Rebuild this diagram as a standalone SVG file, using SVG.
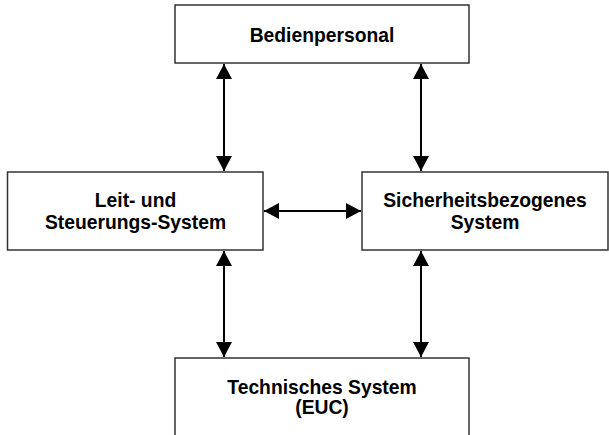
<svg xmlns="http://www.w3.org/2000/svg" width="609" height="435" viewBox="0 0 609 435">
<defs>
<style>
.box{fill:#fff;stroke:#333;stroke-width:1.5}
.lbl{font-family:"Liberation Sans",Arial,sans-serif;font-weight:bold;font-size:19.3px;fill:#000;text-anchor:middle}
.con{stroke:#000;stroke-width:2;fill:none;marker-start:url(#ah);marker-end:url(#ah)}
</style>
<marker id="ah" viewBox="0 0 15 16" refX="15" refY="8" markerWidth="15" markerHeight="16" markerUnits="userSpaceOnUse" orient="auto-start-reverse">
<path d="M0,0 L15,8 L0,16 Z" fill="#000"/>
</marker>
</defs>
<rect width="609" height="435" fill="#fff"/>
<g id="n-bedien">
<rect class="box" x="175" y="5" width="294" height="58"/>
<text class="lbl" x="322" y="41.5">Bedienpersonal</text>
</g>
<g id="n-leit">
<rect class="box" x="7.5" y="172" width="255.5" height="78"/>
<text class="lbl" x="135.5" y="206.7">Leit- und</text>
<text class="lbl" x="135.5" y="229.3">Steuerungs-System</text>
</g>
<g id="n-sicher">
<rect class="box" x="362" y="172" width="246" height="78"/>
<text class="lbl" x="485" y="206.7">Sicherheitsbezogenes</text>
<text class="lbl" x="485" y="229.3">System</text>
</g>
<g id="n-tech">
<rect class="box" x="175" y="358" width="294" height="90"/>
<text class="lbl" x="322" y="394">Technisches System</text>
<text class="lbl" x="322" y="413.5">(EUC)</text>
</g>
<g id="connectors">
<line class="con" x1="224" y1="64" x2="224" y2="171"/>
<line class="con" x1="421" y1="64" x2="421" y2="171"/>
<line class="con" x1="264" y1="211" x2="361" y2="211"/>
<line class="con" x1="224" y1="251" x2="224" y2="357"/>
<line class="con" x1="421" y1="251" x2="421" y2="357"/>
</g>
</svg>
